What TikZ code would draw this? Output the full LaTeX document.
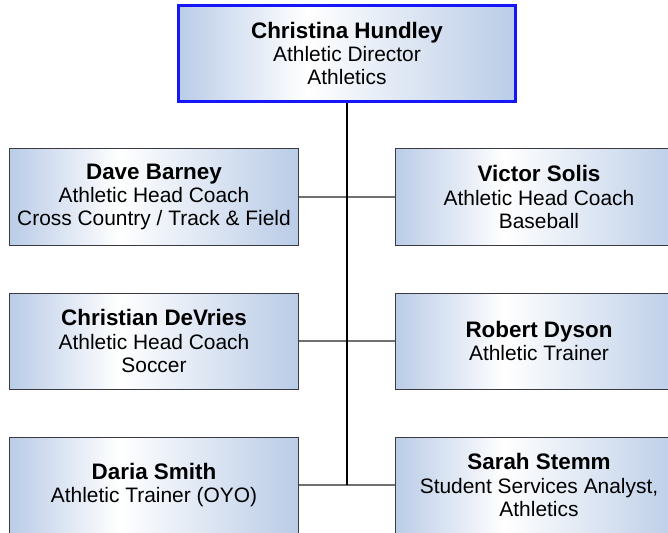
\documentclass[tikz,border=0pt]{standalone}
\usepackage{fontspec}
\setmainfont{Liberation Sans}
\usetikzlibrary{shadows}

\definecolor{cardblue}{RGB}{186,204,231}
\definecolor{cardedge}{RGB}{58,58,64}
\definecolor{linkgray}{RGB}{112,112,112}
\definecolor{bossblue}{RGB}{22,22,250}

% light in the left third, bluer to the right
\pgfdeclarehorizontalshading{cardshade}{100bp}{color(0bp)=(cardblue); color(25bp)=(cardblue); color(44bp)=(white); color(75bp)=(cardblue); color(100bp)=(cardblue)}

\tikzset{
  card/.style={draw=cardedge, line width=1bp, shading=cardshade,
    minimum width=288bp, minimum height=96bp, inner sep=0pt, align=center,
    font=\fontsize{21}{23.5}\selectfont,
    drop shadow={shadow xshift=1.3bp, shadow yshift=-1.3bp, fill=cardedge, opacity=1}},
  bosscard/.style={card, draw=bossblue, line width=3bp,
    minimum width=337bp, minimum height=96bp},
  link/.style={draw=linkgray, line width=1.5bp},
  trunk/.style={draw=black, line width=2bp}
}
\newcommand{\pname}[1]{{\bfseries\fontsize{22.5}{23.5}\selectfont #1}}

\begin{document}
\begin{tikzpicture}[x=1bp,y=-1bp]
\useasboundingbox (0,0) rectangle (668,533);
\clip (0,0) rectangle (668,533);

% director
\node[bosscard] (hundley) at (347,53.5) {\pname{Christina Hundley}\\Athletic Director\\Athletics};

% left column
\node[card] (barney)  at (154,197) {\pname{Dave Barney}\\Athletic Head Coach\\Cross Country / Track \& Field};
\node[card] (devries) at (154,341) {\pname{Christian DeVries}\\Athletic Head Coach\\Soccer};
\node[card] (smith)   at (154,485) {\pname{Daria Smith}\\Athletic Trainer (OYO)};

% right column
\node[card] (solis)   at (539,197) {\pname{Victor Solis}\\Athletic Head Coach\\Baseball};
\node[card] (dyson)   at (539,341) {\pname{Robert Dyson}\\Athletic Trainer};
\node[card] (stemm)   at (539,485) {\pname{Sarah Stemm}\\Student Services Analyst,\\Athletics};

% connectors
\draw[link] (barney.east)  -- (solis.west);
\draw[link] (devries.east) -- (dyson.west);
\draw[link] (smith.east)   -- (stemm.west);
\draw[trunk] (hundley.south) -- (hundley.south |- smith.east);

\end{tikzpicture}
\end{document}
